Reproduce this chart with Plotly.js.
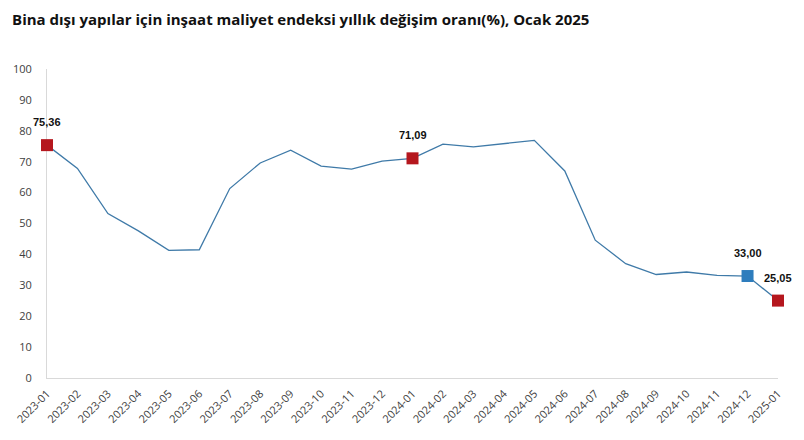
<!DOCTYPE html>
<html><head><meta charset="utf-8">
<script src="https://cdn.plot.ly/plotly-3.0.1.min.js"></script>
<style>html,body{margin:0;padding:0;background:#fff}#c{width:804px;height:440px}</style>
</head><body><div id="c"></div>
<script>
const months = ["2023-01","2023-02","2023-03","2023-04","2023-05","2023-06","2023-07","2023-08","2023-09","2023-10","2023-11","2023-12",
"2024-01","2024-02","2024-03","2024-04","2024-05","2024-06","2024-07","2024-08","2024-09","2024-10","2024-11","2024-12","2025-01"];
const values = [75.36,67.8,53.2,47.6,41.3,41.5,61.3,69.6,73.7,68.6,67.6,70.2,
71.09,75.7,74.8,75.8,76.9,67.0,44.6,37.0,33.5,34.3,33.2,33.00,25.05];
const redMonths = ["2023-01","2024-01","2025-01"];
const blueMonths = ["2024-12"];
const labelMonths = ["2023-01","2024-01","2024-12","2025-01"];

const valOf = m => values[months.indexOf(m)];
const fmt = v => v.toFixed(2).replace('.', ',');

const traces = [
 {x: months, y: values, type:'scatter', mode:'lines', line:{color:'#3f7aa8', width:1.3}, hoverinfo:'skip', cliponaxis:false},
 {x: redMonths, y: redMonths.map(valOf), type:'scatter', mode:'markers', marker:{symbol:'square', size:12, color:'#b5171e'}, cliponaxis:false},
 {x: blueMonths, y: blueMonths.map(valOf), type:'scatter', mode:'markers', marker:{symbol:'square', size:12, color:'#2e7dbd'}, cliponaxis:false}
];

const annotations = labelMonths.map(m => ({
 x: m, y: valOf(m), text: fmt(valOf(m)), showarrow:false, yshift:23,
 font:{family:'Liberation Sans, Arial, sans-serif', size:11, color:'#111', weight:'bold'}
}));

const layout = {
 width:804, height:440,
 margin:{l:47, r:26, t:69, b:62},
 paper_bgcolor:'#fff', plot_bgcolor:'#fff',
 showlegend:false,
 title:{text:'<b>Bina dışı yapılar için inşaat maliyet endeksi yıllık değişim oranı(%), Ocak 2025</b>',
   x:0.015, xanchor:'left', y:0.955, yanchor:'middle',
   font:{family:'Open Sans, Noto Sans, sans-serif', size:15, color:'#111'}},
 xaxis:{type:'category', range:[0, months.length-1], showgrid:false, zeroline:false,
   showline:true, linecolor:'#d9d9d9', linewidth:1, ticks:'', tickangle:-45, layer:'below traces',
   ticklabelstandoff:4,
   tickfont:{family:'Open Sans, Noto Sans, sans-serif', size:11, color:'#404040'}},
 yaxis:{range:[0,100], dtick:10, showgrid:false, zeroline:false, layer:'below traces',
   showline:true, linecolor:'#d9d9d9', linewidth:1, ticks:'', ticklabelstandoff:12,
   tickfont:{family:'Open Sans, Noto Sans, sans-serif', size:11, color:'#404040'}},
 annotations: annotations
};
Plotly.newPlot('c', traces, layout, {displayModeBar:false, staticPlot:true});
</script></body></html>
